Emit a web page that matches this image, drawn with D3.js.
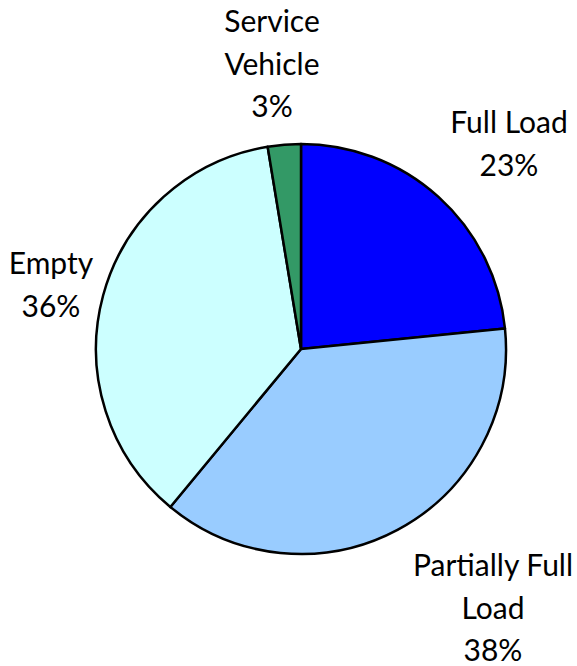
<!DOCTYPE html>
<html><head><meta charset="utf-8">
<script src="https://cdn.jsdelivr.net/npm/d3@7"></script>
<style>html,body{margin:0;padding:0;background:#fff;}svg{display:block;}</style>
</head><body>
<svg id="chart" width="577" height="666"></svg>
<script>
const categories = ["Full Load", "Partially Full Load", "Empty", "Service Vehicle"];
const values = [23.4, 37.6, 36.4, 2.6];
const colors = ["#0000FF", "#99CCFF", "#CCFFFF", "#339966"];
const labelLines = [["Full Load"], ["Partially Full", "Load"], ["Empty"], ["Service", "Vehicle"]];

const W = 577, H = 666;
const cx = 301, cy = 349, R = 205;
const fontSize = 30, lineH = 42.5;
// first-baseline anchors of the label blocks (layout, not data)
const labelAnchors = [[509, 133], [493, 576], [51, 274], [272, 32]];

const svg = d3.select("#chart");
const total = d3.sum(values);
const data = categories.map((c, i) => ({cat: c, value: values[i], color: colors[i], lines: labelLines[i]}));

const pie = d3.pie().value(d => d.value).sort(null);
const arc = d3.arc().innerRadius(0).outerRadius(R);
const g = svg.append("g").attr("transform", `translate(${cx},${cy})`);
g.selectAll("path").data(pie(data)).join("path")
  .attr("d", arc)
  .attr("fill", d => d.data.color)
  .attr("stroke", "#000")
  .attr("stroke-width", 2.5)
  .attr("stroke-linejoin", "round");

const fmt = d3.format(".0%");
const labels = svg.selectAll("text.lbl").data(data).join("text")
  .attr("class", "lbl")
  .attr("text-anchor", "middle")
  .attr("font-family", "Lato, 'Open Sans', sans-serif")
  .attr("font-size", fontSize)
  .attr("fill", "#000")
  .attr("x", (d, i) => labelAnchors[i][0])
  .attr("y", (d, i) => labelAnchors[i][1]);
labels.each(function(d, i) {
  const t = d3.select(this);
  const lines = d.lines.concat([fmt(d.value / total)]);
  lines.forEach((ln, k) => {
    t.append("tspan").attr("x", labelAnchors[i][0]).attr("dy", k === 0 ? 0 : lineH).text(ln);
  });
});
</script>
</body></html>
